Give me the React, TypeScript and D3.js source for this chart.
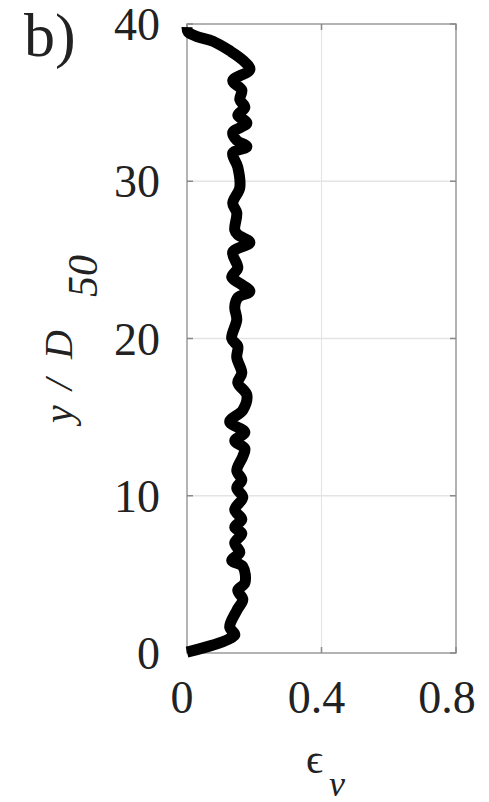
import React from "react";
import * as d3 from "d3";

const epsV: number[] = [0.0, 0.142, 0.127, 0.148, 0.166, 0.151, 0.172, 0.166, 0.133, 0.157, 0.142, 0.163, 0.142, 0.163, 0.142, 0.166, 0.148, 0.163, 0.148, 0.166, 0.172, 0.142, 0.172, 0.127, 0.166, 0.178, 0.151, 0.163, 0.148, 0.151, 0.133, 0.148, 0.142, 0.151, 0.187, 0.157, 0.133, 0.151, 0.136, 0.187, 0.151, 0.142, 0.148, 0.136, 0.157, 0.151, 0.136, 0.178, 0.148, 0.136, 0.178, 0.151, 0.172, 0.157, 0.163, 0.136, 0.187, 0.166, 0.127, 0.077, 0.03, 0.003, 0.0];
const yD50: number[] = [0.06, 1.14, 1.65, 2.7, 3.4, 4.0, 4.45, 5.5, 5.9, 6.4, 7.0, 7.6, 8.0, 8.5, 9.1, 9.9, 10.5, 11.0, 11.6, 12.5, 13.0, 13.5, 14.05, 14.7, 15.45, 16.4, 17.2, 17.8, 18.8, 19.5, 20.0, 21.2, 22.0, 22.6, 23.0, 23.5, 23.9, 24.5, 25.5, 26.1, 26.6, 26.9, 28.0, 28.6, 29.6, 30.9, 31.8, 32.2, 32.6, 33.1, 33.7, 34.2, 34.7, 35.2, 35.8, 36.4, 37.1, 37.7, 38.3, 38.9, 39.2, 39.5, 39.8];

const xTicks: number[] = [0, 0.4, 0.8];
const xTickLabels: string[] = ["0", "0.4", "0.8"];
const yTicks: number[] = [0, 10, 20, 30, 40];
const yTickLabels: string[] = ["0", "10", "20", "30", "40"];

const FONT = "Liberation Serif";

export default function App() {
  const left = 187, right = 456, top = 24, bottom = 653;
  const x = d3.scaleLinear().domain([0, 0.8]).range([left, right]);
  const y = d3.scaleLinear().domain([0, 40]).range([bottom, top]);
  const pts: [number, number][] = epsV.map((e, i) => [e, yD50[i]]);
  const line = d3.line<[number, number]>().x(d => x(d[0])).y(d => y(d[1])).curve(d3.curveCatmullRom.alpha(0.5));
  const tl = 6;
  return (
    <svg width={489} height={802} style={{ position: "absolute", left: 0, top: 0, background: "#fff" }}>
      <defs>
        <clipPath id="lblclip"><rect x={0} y={0} width={477} height={802} /></clipPath>
      </defs>
      <rect x={0} y={0} width={489} height={802} fill="#fff" />
      {xTicks.filter(t => t > 0 && t < 0.8).map(t => (
        <line key={"gx" + t} x1={x(t)} x2={x(t)} y1={top} y2={bottom} stroke="#e4e4e4" strokeWidth={1.2} />
      ))}
      {yTicks.filter(t => t > 0 && t < 40).map(t => (
        <line key={"gy" + t} x1={left} x2={right} y1={y(t)} y2={y(t)} stroke="#e4e4e4" strokeWidth={1.5} />
      ))}
      <rect x={left} y={top} width={right - left} height={bottom - top} fill="none" stroke="#9a9a9a" strokeWidth={1.5} />
      {yTicks.map(t => (
        <g key={"ty" + t}>
          <line x1={left} x2={left + tl} y1={y(t)} y2={y(t)} stroke="#8a8a8a" strokeWidth={1.5} />
          <line x1={right} x2={right - tl} y1={y(t)} y2={y(t)} stroke="#8a8a8a" strokeWidth={1.5} />
        </g>
      ))}
      {xTicks.map(t => (
        <g key={"tx" + t}>
          <line x1={x(t)} x2={x(t)} y1={bottom} y2={bottom - tl} stroke="#8a8a8a" strokeWidth={1.5} />
          <line x1={x(t)} x2={x(t)} y1={top} y2={top + tl} stroke="#8a8a8a" strokeWidth={1.5} />
        </g>
      ))}
      <path d={line(pts) || ""} fill="none" stroke="#000" strokeWidth={11} strokeLinejoin="round" strokeLinecap="butt" />
      <g clipPath="url(#lblclip)">
        {xTicks.map((t, i) => (
          <text key={"lx" + t} x={x(t) - (i === 2 ? 9 : 5)} y={713} textAnchor="middle" fontFamily={FONT} fontSize={46} fill="#222">{xTickLabels[i]}</text>
        ))}
      </g>
      {yTicks.map((t, i) => (
        <text key={"ly" + t} x={160} y={y(t) + 16} textAnchor="end" fontFamily={FONT} fontSize={46} fill="#222">{yTickLabels[i]}</text>
      ))}
      <text x={24} y={56} fontFamily={FONT} fontSize={62} fill="#222">b)</text>
      <g transform="translate(72,423) rotate(-90)" fontFamily={FONT} fill="#222" fontStyle="italic">
        <text x={0} y={0} fontSize={40}>y</text>
        <text x={33} y={0} fontSize={40}>/</text>
        <text x={64} y={0} fontSize={40}>D</text>
        <text x={126} y={25} fontSize={42}>50</text>
      </g>
      <text x={306} y={773} fontFamily={FONT} fontSize={42} fill="#222">ϵ</text>
      <text x={329} y={796} fontFamily={FONT} fontSize={36} fontStyle="italic" fill="#222">v</text>
    </svg>
  );
}
